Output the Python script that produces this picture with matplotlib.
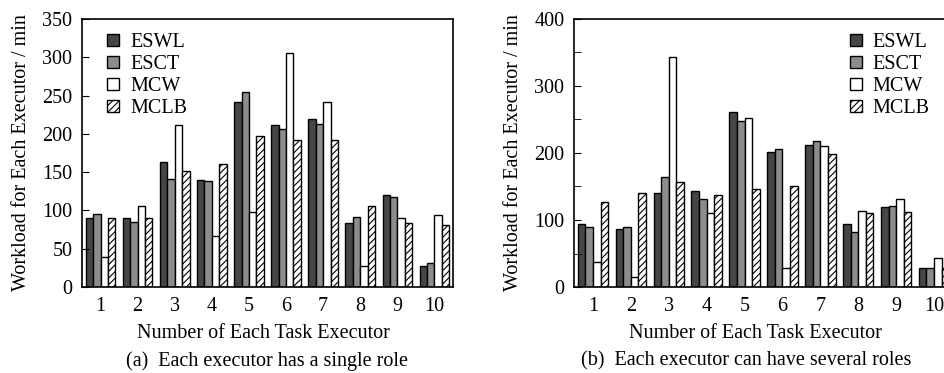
import numpy as np
import matplotlib
matplotlib.use('Agg')
import matplotlib.pyplot as plt
from matplotlib.patches import Patch

### Data
executors = ['1', '2', '3', '4', '5', '6', '7', '8', '9', '10']
series_names = ['ESWL', 'ESCT', 'MCW', 'MCLB']

### (a) each executor has a single role
eswl_a = [90, 90, 163, 140, 241, 212, 220, 83, 120, 28]
esct_a = [95, 85, 141, 139, 255, 206, 213, 91, 118, 31]
mcw_a = [39, 106, 212, 66, 98, 305, 242, 28, 90, 94]
mclb_a = [90, 90, 152, 161, 197, 192, 192, 106, 83, 81]

### (b) each executor can have several roles
eswl_b = [94, 86, 140, 143, 261, 202, 212, 94, 119, 29]
esct_b = [89, 89, 164, 131, 248, 206, 218, 82, 121, 29]
mcw_b = [37, 15, 343, 110, 252, 28, 211, 113, 132, 43]
mclb_b = [127, 140, 156, 137, 146, 150, 198, 111, 112, 28]

plt.rcParams['font.family'] = ['Liberation Serif', 'DejaVu Serif']
plt.rcParams['hatch.linewidth'] = 0.8

colors = ['#464646', '#8c8c8c', 'white', 'white']
hatches = [None, None, None, '/////']
fs = 14.5

fig = plt.figure(figsize=(9.44, 3.73), dpi=100)
ax_a = fig.add_axes([82 / 944, 1 - 287 / 373, 371 / 944, 268 / 373])
ax_b = fig.add_axes([574 / 944, 1 - 287 / 373, 379 / 944, 268 / 373])

def draw_panel(ax, data, ymax, major, minor):
    x = np.arange(1, len(executors) + 1)
    w = 0.2
    for k, vals in enumerate(data):
        ax.bar(x + (k - 1.5) * w, vals, width=w, color=colors[k],
               edgecolor='black', linewidth=1.0, hatch=hatches[k])
    ax.set_xlim(0.5, 10.5)
    ax.set_ylim(0, ymax)
    ax.set_xticks(x)
    ax.set_xticklabels(executors)
    ax.set_yticks(np.arange(0, ymax + 1, major))
    ax.set_yticks(np.arange(0, ymax + 1, minor), minor=True)
    ax.tick_params(axis='x', length=0, labelsize=fs, pad=7)
    ax.tick_params(axis='y', which='both', direction='in', labelsize=fs,
                   length=5, pad=7)
    ax.set_ylabel('Workload for Each Executor / min', fontsize=fs, labelpad=8)
    for s in ax.spines.values():
        s.set_linewidth(1.2)

draw_panel(ax_a, [eswl_a, esct_a, mcw_a, mclb_a], 350, 50, 50)
draw_panel(ax_b, [eswl_b, esct_b, mcw_b, mclb_b], 400, 100, 50)

### Legends with small square handles
handles = [Patch(facecolor=colors[k], edgecolor='black', hatch=hatches[k],
                 label=series_names[k]) for k in range(4)]
leg_kw = dict(frameon=False, fontsize=fs, handlelength=0.6, handleheight=0.6,
              handletextpad=0.55, labelspacing=0.15, borderpad=0.2)
ax_a.legend(handles=handles, loc='upper left', bbox_to_anchor=(0.03, 1.0),
            **leg_kw)
ax_b.legend(handles=handles, loc='upper left', bbox_to_anchor=(0.69, 1.0),
            **leg_kw)

### Axis titles and sub-captions
fig.text(263 / 944, 1 - 333 / 373, 'Number of Each Task Executor',
         ha='center', va='center', fontsize=fs)
fig.text(267 / 944, 1 - 361 / 373, '(a)  Each executor has a single role',
         ha='center', va='center', fontsize=fs)
fig.text(755 / 944, 1 - 333 / 373, 'Number of Each Task Executor',
         ha='center', va='center', fontsize=fs)
fig.text(746 / 944, 1 - 361 / 373, '(b)  Each executor can have several roles',
         ha='center', va='center', fontsize=fs)

fig.savefig('out.png', dpi=100)
